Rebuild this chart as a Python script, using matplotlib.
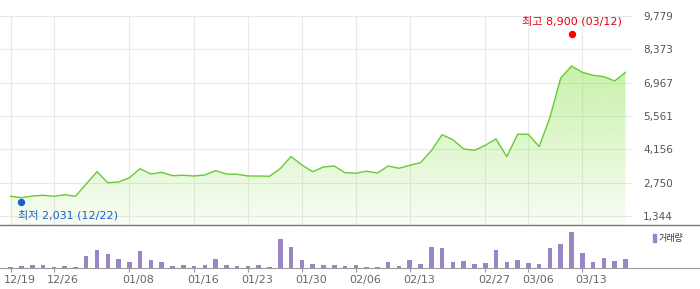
import numpy as np
import matplotlib
matplotlib.use("Agg")
import matplotlib.pyplot as plt
from matplotlib.lines import Line2D
from matplotlib.patches import Rectangle
from matplotlib import transforms

# daily close
close = [2175, 2116, 2188, 2217, 2175, 2242, 2175, 2694, 3212, 2748,
         2778, 2959, 3339, 3115, 3187, 3044, 3061, 3031, 3073, 3255,
         3115, 3103, 3031, 3031, 3018, 3347, 3853, 3495, 3212, 3411,
         3453, 3170, 3149, 3233, 3158, 3453, 3356, 3482, 3592, 4098,
         4773, 4562, 4170, 4115, 4326, 4591, 3845, 4790, 4790, 4267,
         5507, 7164, 7670, 7405, 7278, 7219, 7038, 7405]
# volume (relative units)
volume = [1, 2, 3, 3, 1, 2, 1, 12, 18, 14,
          9, 6, 17, 8, 6, 2, 3, 2, 3, 9,
          3, 2, 2, 3, 1, 29, 21, 8, 4, 3,
          3, 2, 3, 1, 1, 6, 2, 8, 4, 21,
          20, 6, 7, 4, 5, 18, 6, 8, 5, 4,
          20, 24, 36, 15, 6, 10, 7, 9]

tick_idx = [0, 4, 11, 17, 22, 27, 32, 37, 44, 48, 53]
tick_labels = ["12/19", "12/26", "01/08", "01/16", "01/23", "01/30",
               "02/06", "02/13", "02/27", "03/06", "03/13"]
price_ticks = [1344, 2750, 4156, 5561, 6967, 8373, 9779]

low_idx, low_val, low_date = 1, 2031, "12/22"
high_idx, high_val, high_date = 52, 8900, "03/12"

fonts = ["DejaVu Sans", "Noto Sans CJK KR"]
plt.rcParams["font.family"] = fonts

W, H = 700, 289
fig = plt.figure(figsize=(W / 100, H / 100), dpi=100)

step = 10.785
x0 = 10.7
x = np.arange(len(close))

# ---- price panel
ax = fig.add_axes([0, 1 - 225 / H, 632 / W, 209 / H])
ax.set_xlim(-x0 / step, (632 - x0) / step)
ax.set_ylim(964, 9779)
for s in ax.spines.values():
    s.set_visible(False)
ax.set_xticks(tick_idx)
ax.set_xticklabels([])
ax.set_yticks(price_ticks)
ax.set_yticklabels([f"{v:,}" for v in price_ticks])
ax.yaxis.tick_right()
ax.tick_params(axis="both", length=0)
ax.tick_params(axis="y", pad=8, labelsize=7.5, labelcolor="#555555")
ax.grid(True, color="#e9e9e9", linewidth=0.8)
ax.set_axisbelow(True)

# gradient fill under the line
poly = ax.fill_between(x, close, 964, color="none", linewidth=0)
ys = np.linspace(964, 9779, 256)
alpha = 0.06 + (ys - 964) / (9779 - 964) * 0.54
grad = np.zeros((256, 1, 4))
grad[:, 0, 0] = 140 / 255
grad[:, 0, 1] = 225 / 255
grad[:, 0, 2] = 75 / 255
grad[:, 0, 3] = alpha
im = ax.imshow(grad, extent=[0, len(close) - 1, 964, 9779], origin="lower",
               aspect="auto", zorder=1)
im.set_clip_path(poly.get_paths()[0], transform=ax.transData)
ax.set_xlim(-x0 / step, (632 - x0) / step)
ax.set_ylim(964, 9779)

ax.plot(x, close, color="#66cc33", linewidth=1.0, zorder=3)

# low / high markers
low_tr = transforms.offset_copy(ax.transData, fig=fig, y=-2.6, units="dots")
high_tr = transforms.offset_copy(ax.transData, fig=fig, y=2.5, units="dots")
ax.plot(low_idx, low_val, "o", color="#1560d0", markersize=4.3,
        transform=low_tr, zorder=4)
ax.plot(high_idx, high_val, "o", color="#ff0000", markersize=4.3,
        transform=high_tr, zorder=4)
ax.annotate(f"최저 {low_val:,} ({low_date})", (low_idx, low_val),
            xytext=(-2.4, -11.0), textcoords="offset points",
            ha="left", va="center", fontsize=8, color="#1a5fc9")
ax.annotate(f"최고 {high_val:,} ({high_date})", (high_idx, high_val),
            xytext=(0, 11.4), textcoords="offset points",
            ha="center", va="center", fontsize=8, color="#e60012")

# ---- volume panel
bx = fig.add_axes([0, 1 - 268 / H, 1, 42 / H])
bx.set_xlim(-x0 / step, (W - x0) / step)
bx.set_ylim(0, 42)
bx.bar(x, volume, width=0.42, color="#9a85c5")
for k in ["top", "left", "right"]:
    bx.spines[k].set_visible(False)
bx.spines["bottom"].set_color("#9a9a9a")
bx.spines["bottom"].set_linewidth(0.8)
bx.set_yticks([])
bx.set_xticks(tick_idx)
bx.set_xticklabels(tick_labels, ha="left")
bx.tick_params(axis="x", length=3, color="#9a9a9a", pad=2,
               labelsize=8, labelcolor="#666666")
shift = transforms.ScaledTranslation(-6.6 / 100, 0, fig.dpi_scale_trans)
for lab in bx.get_xticklabels():
    lab.set_transform(lab.get_transform() + shift)
bx.patch.set_visible(False)

# separator between panels
fig.add_artist(Line2D([0, 1], [1 - 225 / H, 1 - 225 / H], color="#777777",
                      linewidth=1.0, transform=fig.transFigure))

# volume legend
fig.add_artist(Rectangle((652.7 / W, 1 - 242 / H), 3.3 / W, 8 / H,
                         color="#9a85c5", transform=fig.transFigure))
fig.text(658.5 / W, 1 - 238 / H, "거래량", fontsize=6.5, color="#333333",
         va="center", ha="left")

fig.savefig("out.png", dpi=100)
